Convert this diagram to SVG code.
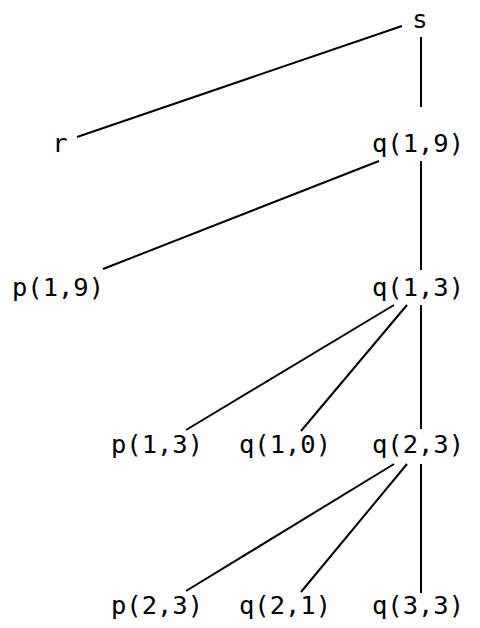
<svg xmlns="http://www.w3.org/2000/svg" width="480" height="628" viewBox="0 0 480 628">
<style>
text{font-family:"DejaVu Sans Mono",monospace;font-size:25.5px;fill:#000;text-anchor:middle}
line{stroke:#000;stroke-width:2}
</style>
<rect width="480" height="628" fill="#fff"/>
<g id="connectors">
<line x1="402" y1="26" x2="77" y2="137"/>
<line x1="421" y1="37" x2="421" y2="107"/>
<line x1="379" y1="161" x2="103" y2="269"/>
<line x1="421" y1="161" x2="421" y2="270"/>
<line x1="394" y1="305" x2="186" y2="430"/>
<line x1="407" y1="305" x2="301" y2="431"/>
<line x1="421" y1="305" x2="421" y2="429"/>
<line x1="394" y1="464" x2="186" y2="591"/>
<line x1="407" y1="464" x2="301" y2="592"/>
<line x1="421" y1="464" x2="421" y2="593"/>
</g>
<g id="s"><text x="420" y="28">s</text></g>
<g id="r"><text x="60" y="152">r</text></g>
<g id="q19"><text x="418" y="152">q(1,9)</text></g>
<g id="p19"><text x="58" y="296">p(1,9)</text></g>
<g id="q13"><text x="418" y="296">q(1,3)</text></g>
<g id="p13"><text x="157" y="453">p(1,3)</text></g>
<g id="q10"><text x="285" y="453">q(1,0)</text></g>
<g id="q23"><text x="418" y="453">q(2,3)</text></g>
<g id="p23"><text x="157" y="614">p(2,3)</text></g>
<g id="q21"><text x="285" y="614">q(2,1)</text></g>
<g id="q33"><text x="418" y="614">q(3,3)</text></g>
</svg>
